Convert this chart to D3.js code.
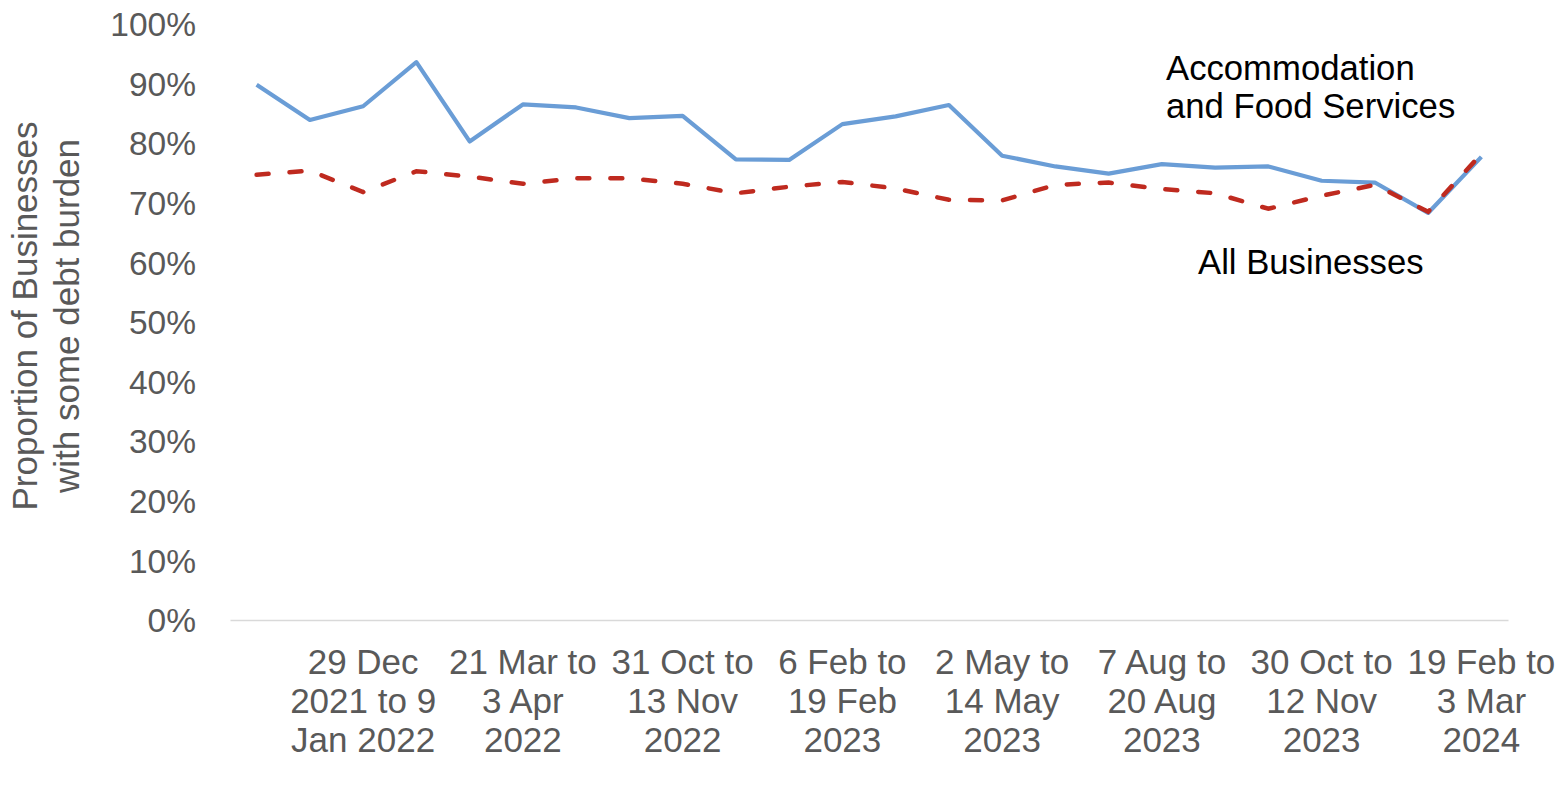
<!DOCTYPE html>
<html>
<head>
<meta charset="utf-8">
<script src="https://cdn.jsdelivr.net/npm/d3@7"></script>
<style>
  body { margin: 0; background: #fff; }
  svg text { font-family: "Liberation Sans", Arial, sans-serif; }
</style>
</head>
<body>
<svg id="chart" width="1558" height="796"></svg>
<script>
// survey waves, in order (only every third one is labelled on the axis)
const waves = d3.range(24);

const tickWaves = [2, 5, 8, 11, 14, 17, 20, 23];
const tickLabels = [
  ["29 Dec", "2021 to 9", "Jan 2022"],
  ["21 Mar to", "3 Apr", "2022"],
  ["31 Oct to", "13 Nov", "2022"],
  ["6 Feb to", "19 Feb", "2023"],
  ["2 May to", "14 May", "2023"],
  ["7 Aug to", "20 Aug", "2023"],
  ["30 Oct to", "12 Nov", "2023"],
  ["19 Feb to", "3 Mar", "2024"]
];

// percent of businesses with some debt burden
const accommodation = [89.8, 83.9, 86.2, 93.6, 80.3, 86.5, 86.0, 84.2, 84.6, 77.3, 77.2, 83.2,
                       84.5, 86.4, 77.9, 76.1, 74.9, 76.5, 75.9, 76.1, 73.7, 73.4, 68.3, 77.7];
const allBusinesses = [74.7, 75.4, 71.8, 75.3, 74.4, 73.2, 74.1, 74.1, 73.2, 71.6, 72.7, 73.5,
                       72.4, 70.5, 70.4, 73.0, 73.4, 72.3, 71.6, 69.0, 71.2, 73.0, 68.5, 78.2];

const yTicks = d3.range(0, 101, 10);

const svg = d3.select("#chart");
const margin = {top: 24, right: 50, bottom: 176, left: 230};
const width = 1558 - margin.left - margin.right;
const height = 796 - margin.top - margin.bottom;

const g = svg.append("g").attr("transform", "translate(" + margin.left + "," + margin.top + ")");

const x = d3.scaleBand().domain(waves).range([0, width]);
const y = d3.scaleLinear().domain([0, 100]).range([height, 0]);

const labelByWave = new Map(tickWaves.map((w, i) => [w, tickLabels[i]]));

// y axis: labels only
const yAxis = g.append("g")
  .attr("transform", "translate(-31,0)")
  .call(d3.axisLeft(y).tickValues(yTicks).tickSize(0).tickFormat(d => d + "%"));
yAxis.select(".domain").remove();
yAxis.selectAll("text")
  .attr("fill", "#595959")
  .attr("font-size", "33.5px")
  .attr("dy", "0.35em");

// x axis
const xAxis = g.append("g")
  .attr("transform", "translate(0," + height + ")")
  .call(d3.axisBottom(x).tickValues(tickWaves).tickSize(0).tickFormat(""));
xAxis.select(".domain").attr("stroke", "#d9d9d9").attr("stroke-width", 1.5);

xAxis.selectAll(".tick").each(function(d) {
  const t = d3.select(this).append("text")
    .attr("fill", "#595959")
    .attr("font-size", "35px")
    .attr("text-anchor", "middle")
    .attr("y", 54);
  labelByWave.get(d).forEach((line, i) => {
    t.append("tspan").attr("x", 0).attr("dy", i === 0 ? 0 : 39).text(line);
  });
});

// y axis title
const yTitle = svg.append("text")
  .attr("transform", "translate(37,316) rotate(-90)")
  .attr("text-anchor", "middle")
  .attr("fill", "#595959")
  .attr("font-size", "35px");
yTitle.append("tspan").attr("x", 0).attr("dy", 0).text("Proportion of Businesses");
yTitle.append("tspan").attr("x", 0).attr("dy", 42).text("with some debt burden");

const line = d3.line()
  .x((d, i) => x(waves[i]) + x.bandwidth() / 2)
  .y(d => y(d));

g.append("path")
  .datum(accommodation)
  .attr("fill", "none")
  .attr("stroke", "#6a9dd6")
  .attr("stroke-width", 4.2)
  .attr("stroke-linejoin", "round")
  .attr("d", line);

g.append("path")
  .datum(allBusinesses)
  .attr("fill", "none")
  .attr("stroke", "#bf2a1f")
  .attr("stroke-width", 4.5)
  .attr("stroke-linecap", "round")
  .attr("stroke-dasharray", "12,21")
  .attr("d", line);

// series annotations
const ann = svg.append("g")
  .attr("fill", "#000")
  .attr("font-size", "34.7px");
ann.append("text").attr("x", 1166).attr("y", 80).text("Accommodation");
ann.append("text").attr("x", 1166).attr("y", 118).text("and Food Services");
ann.append("text").attr("x", 1198).attr("y", 274).text("All Businesses");
</script>
</body>
</html>
